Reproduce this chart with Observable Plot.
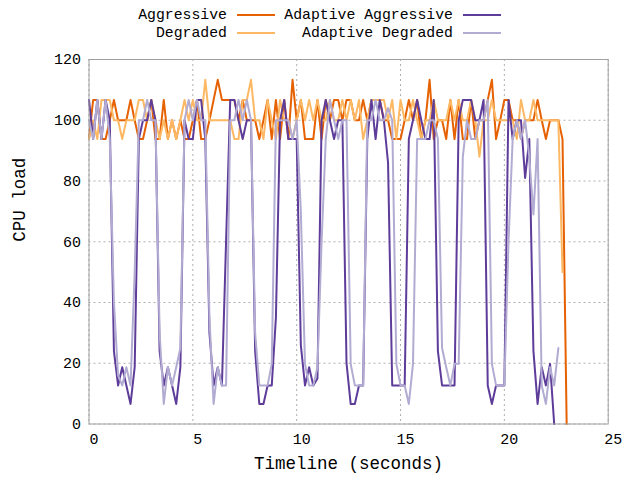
<!DOCTYPE html>
<html><head><meta charset="utf-8">
<script src="https://cdn.jsdelivr.net/npm/d3@7"></script>
<script src="https://cdn.jsdelivr.net/npm/@observablehq/plot@0.6"></script>
<style>
body{margin:0;background:#fff;}
#wrap{position:relative;width:623px;height:482px;font-family:"Liberation Mono",monospace;color:#000;}
#legend{position:relative;width:623px;height:50px;}
.lt{position:absolute;font-size:14.8px;line-height:1;white-space:pre;transform:translateY(-50%);}
.ls{position:absolute;height:2px;width:38px;transform:translateY(-50%);}
</style></head>
<body><div id="wrap"><div id="legend"></div><div id="chart"></div></div>
<script>
// sampling times (seconds)
const times = [0,0.2,0.4,0.6,0.8,1,1.2,1.4,1.6,1.8,2,2.2,2.4,2.6,2.8,3,3.2,3.4,3.6,3.8,4,4.2,4.4,4.6,4.8,5,5.2,5.4,5.6,5.8,6,6.2,6.4,6.6,6.8,7,7.2,7.4,7.6,7.8,8,8.2,8.4,8.6,8.8,9,9.2,9.4,9.6,9.8,10,10.2,10.4,10.6,10.8,11,11.2,11.4,11.6,11.8,12,12.2,12.4,12.6,12.8,13,13.2,13.4,13.6,13.8,14,14.2,14.4,14.6,14.8,15,15.2,15.4,15.6,15.8,16,16.2,16.4,16.6,16.8,17,17.2,17.4,17.6,17.8,18,18.2,18.4,18.6,18.8,19,19.2,19.4,19.6,19.8,20,20.2,20.4,20.6,20.8,21,21.2,21.4,21.6,21.8,22,22.2,22.4,22.6,22.8,23];

const aggressive = [94,106.7,106.7,93.8,93.8, 100,106.7,100,100,100, 106.7,100,93.8,93.8,100, 106.7,93.8,93.8,106.7,93.8,
  100,93.8,100,93.8,93.8, 100,106.7,93.8,93.8,100, 106.7,113.3,106.7,106.7,106.7, 106.7,100,106.7,100,100,
  100,93.8,100,106.7,93.8, 106.7,93.8,106.7,93.8,113.3, 100,106.7,93.8,93.8,93.8, 106.7,93.8,106.7,100,106.7,
  106.7,100,106.7,106.7,100, 100,106.7,100,106.7,106.7, 106.7,100,100,93.8,93.8, 93.8,100,106.7,100,106.7,
  93.8,100,113.3,93.8,100, 100,93.8,106.7,93.8,106.7, 93.8,93.8,106.7,93.8,100, 100,106.7,113.3,93.8,100,
  106.7,106.7,100,100,93.8, 100,100,100,106.7,100, 93.8,100,100,100,93.8, 0];

const degraded = [93.8,100,93.8,106.7,106.7, 106.7,100,100,93.8,100, 100,100,106.7,106.7,100, 106.7,100,93.8,100,93.8,
  100,93.8,100,106.7,100, 106.7,100,100,113.3,100, 100,100,100,100,100, 93.8,93.8,106.7,106.7,113.3,
  100,100,93.8,106.7,100, 93.8,106.7,100,100,93.8, 100,106.7,100,106.7,100, 106.7,100,100,106.7,100,
  100,106.7,100,106.7,100, 106.7,93.8,100,106.7,106.7, 106.7,106.7,100,106.7,93.8, 106.7,100,100,106.7,100,
  93.8,100,100,106.7,100, 100,100,106.7,100,106.7, 100,100,106.7,100,88, 100,100,106.7,100,100,
  100,100,100,93.8,106.7, 100,100,106.7,100,100, 100,100,100,100,50];

const adaptiveAggressive = [106.7,93.8,106.7,93.8,106.7, 100,24,12.7,18.7,12.7, 6.6,18.7,93.8,100,100, 106.7,100,24,12.7,18.7,
  12.7,6.6,18.7,100,93.8, 93.8,106.7,106.7,93.8,30, 12.7,18.7,12.7,60,106.7, 106.7,100,93.8,100,100,
  24,6.6,6.6,12.7,12.7, 35,100,106.7,93.8,93.8, 93.8,26,12.7,18.7,12.7, 15,100,106.7,100,93.8,
  100,100,20,6.6,6.6, 12.7,12.7,93.8,106.7,93.8, 106.7,100,86,12.7,12.7, 12.7,12.7,93.8,100,106.7,
  100,93.8,93.8,106.7,24, 12.7,12.7,12.7,12.7,100, 106.7,106.7,106.7,100,100, 106.7,12.7,6.6,12.7,12.7,
  12.7,106.7,93.8,100,100, 81,93.8,24,6.6,18.7, 12.7,19.8,0];

const adaptiveDegraded = [100,93.8,106.7,93.8,106.7, 93.8,40,16,12.7,18.7, 12.7,50,100,100,106.7, 100,100,30,6.6,18.7,
  12.7,18.7,25,100,106.7, 100,106.7,100,100,35, 6.6,18.7,12.7,12.7,100, 100,106.7,100,106.7,100,
  30,12.7,12.7,12.7,19.8, 100,100,100,100,93.8, 100,70,19.8,12.7,12.7, 18.7,60,93.8,106.7,100,
  93.8,100,100,19.8,12.7, 12.7,12.7,100,100,106.7, 100,100,104,100,19.8, 12.7,12.7,6.6,19.8,93.8,
  93.8,93.8,100,100,93.8, 25,18.7,12.7,19.8,19.8, 88,100,93.8,93.8,100, 100,106.7,19.8,12.7,12.7,
  12.7,60,93.8,100,93.8, 100,88,69,93.8,12.7, 6.6,18.7,12.7,25];

const seriesNames = ["Aggressive", "Degraded", "Adaptive Aggressive", "Adaptive Degraded"];
const seriesColors = ["#e66101", "#fdb863", "#5e3c99", "#b2abd2"];
const seriesValues = [aggressive, degraded, adaptiveAggressive, adaptiveDegraded];

const xTicks = [0, 5, 10, 15, 20, 25];
const yTicks = [0, 20, 40, 60, 80, 100, 120];
const xLabel = "Timeline (seconds)";
const yLabel = "CPU load";

// legend (gnuplot-style key, two columns)
const legend = document.getElementById("legend");
const legendSlots = [
  {textRight: 227, lineLeft: 237, y: 15},
  {textRight: 227, lineLeft: 237, y: 33},
  {textRight: 453, lineLeft: 463, y: 15},
  {textRight: 453, lineLeft: 463, y: 33}
];
seriesNames.forEach((name, i) => {
  const s = legendSlots[i];
  const t = document.createElement("span");
  t.className = "lt"; t.textContent = name;
  t.style.right = (623 - s.textRight) + "px"; t.style.top = s.y + "px";
  legend.appendChild(t);
  const l = document.createElement("div");
  l.className = "ls"; l.style.left = s.lineLeft + "px"; l.style.top = s.y + "px";
  l.style.background = seriesColors[i];
  legend.appendChild(l);
});

const tables = seriesValues.map((vals, k) => vals.map((v, i) => ({t: times[i], v, name: seriesNames[k]})));

const gridStyle = {stroke: "#b0b0b0", strokeOpacity: 1, strokeWidth: 1, strokeDasharray: "2,3"};

const chart = Plot.plot({
  width: 623, height: 432,
  marginLeft: 88.5, marginRight: 15.3, marginTop: 9, marginBottom: 58.5,
  style: {fontFamily: "'Liberation Mono', monospace", fontSize: "15px", color: "#000", background: "#fff"},
  x: {domain: [0, 25]},
  y: {domain: [0, 120]},
  marks: [
    Plot.gridX(xTicks, gridStyle),
    Plot.gridY(yTicks, gridStyle),
    Plot.axisX(xTicks, {tickSize: 0, tickPadding: 9, label: null, fontSize: 15, dx: 5}),
    Plot.axisY(yTicks, {tickSize: 0, tickPadding: 8, label: null, fontSize: 15}),
    ...tables.map((tb, k) => Plot.lineY(tb, {x: "t", y: "v", stroke: seriesColors[k], strokeWidth: 2})),
    Plot.frame({stroke: "#a0a0a0"}),
    Plot.text([yLabel], {frameAnchor: "left", rotate: -90, dx: -70, fontSize: 17.5}),
    Plot.text([xLabel], {frameAnchor: "bottom", dy: 45, fontSize: 17.5})
  ]
});
document.getElementById("chart").appendChild(chart);
</script>
</body></html>
